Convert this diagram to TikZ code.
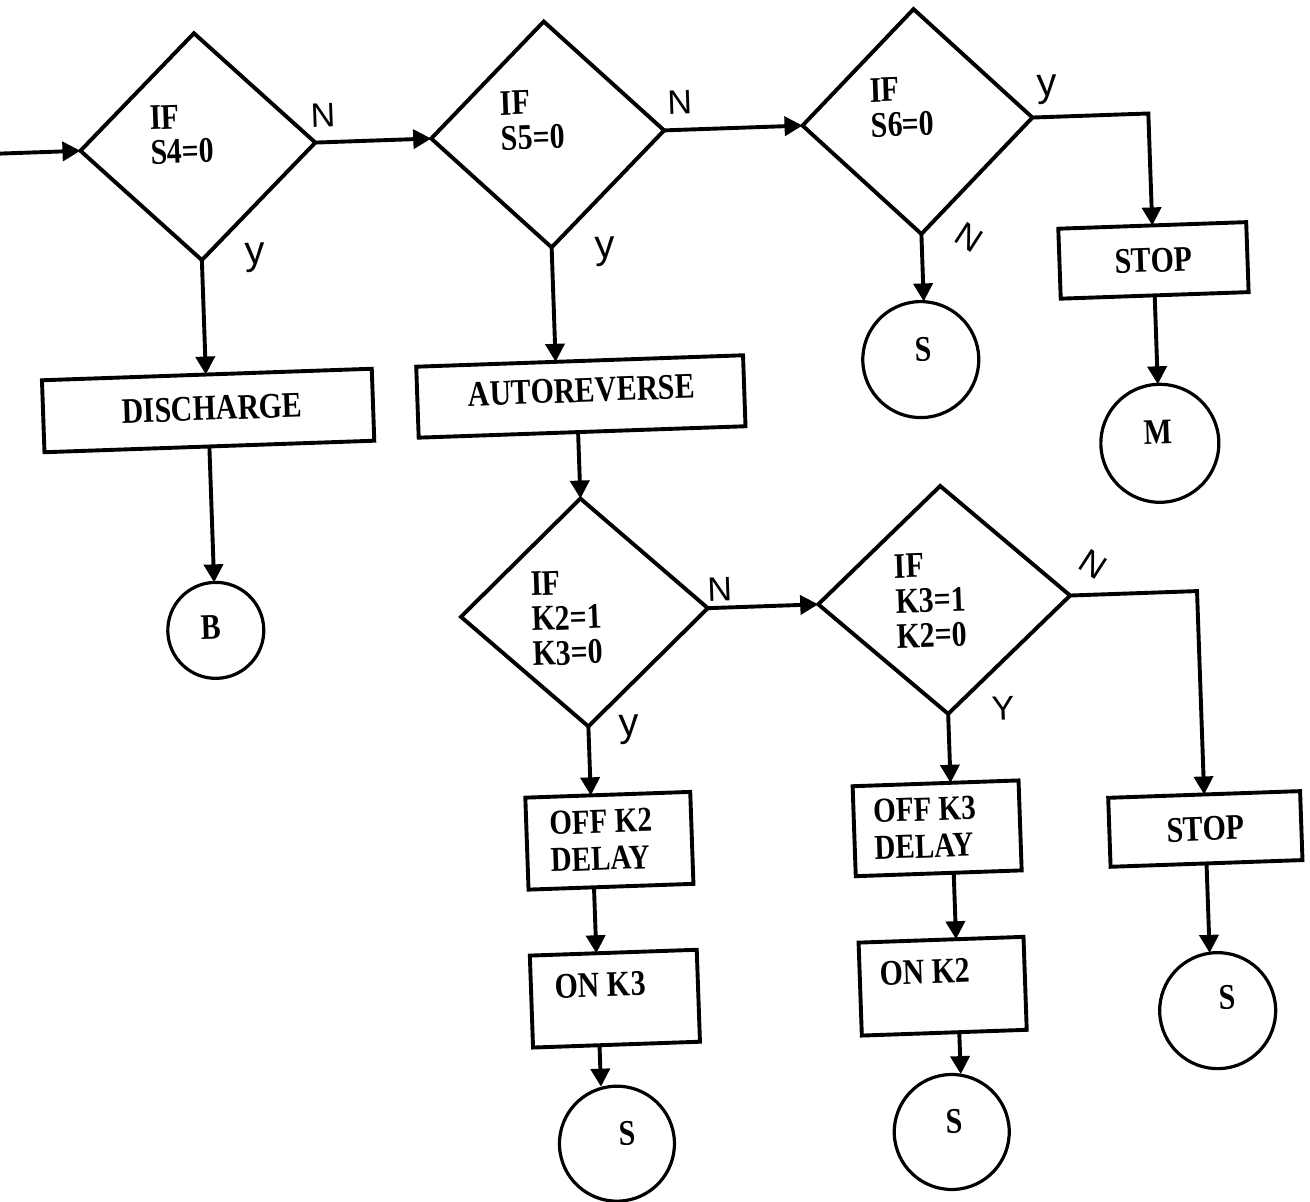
\documentclass[tikz,border=0pt]{standalone}
\usepackage{fontspec}
\setmainfont{Liberation Serif}
\newfontfamily\boxfont[FakeStretch=0.83]{Liberation Serif}
\newfontfamily\handfont{Liberation Sans}
\usetikzlibrary{shapes.geometric,arrows.meta}
\tikzset{
  ln/.style={line width=1.95pt},
  arr/.style={ln, -{Triangle[length=9pt,width=9.5pt]}},
  dia/.style={diamond, draw, ln, inner sep=0pt, outer sep=0pt},
  box/.style={rectangle, draw, ln, inner sep=0pt, outer sep=0pt,
    font=\boxfont\bfseries\fontsize{18}{17.5}\selectfont, align=center},
  circ/.style={circle, draw, line width=1.6pt, inner sep=0pt, outer sep=0pt},
  txt/.style={inner sep=0pt, font=\boxfont\bfseries\fontsize{18}{17.5}\selectfont, align=left},
  txtb/.style={inner sep=0pt, font=\boxfont\bfseries\fontsize{17.5}{18.5}\selectfont, align=left},
  lab/.style={inner sep=0pt, font=\handfont\fontsize{17}{17}\selectfont},
  laby/.style={inner sep=0pt, font=\handfont\fontsize{20}{20}\selectfont},
}
\begin{document}
\begin{tikzpicture}[x=0.5pt,y=-0.5pt]
\useasboundingbox (0,0) rectangle (1310,1201);
\fill[white] (0,0) rectangle (1310,1201);
\begin{scope}[rotate around={2:(655,600)}, transform shape]
% decisions
\coordinate (in) at (14,131);
\node[dia, minimum width=117.5pt, minimum height=113.5pt] (d1) at (214,131) {};
\node[dia, minimum width=116.5pt, minimum height=113pt] (d2) at (564,131) {};
\node[dia, minimum width=115pt, minimum height=112.5pt] (d3) at (934,131) {};
\node[dia, minimum width=123.5pt, minimum height=114pt] (d4) at (584,610) {};
\node[dia, minimum width=126pt, minimum height=114pt] (d5) at (944,610) {};
\node[txt, anchor=west] (t1) at (166.5,118) {IF\\S4=0};
\node[txt, anchor=west] (t2) at (517,116) {IF\\S5=0};
\node[txt, anchor=west] (t3) at (887,116) {IF\\S6=0};
\node[txt, anchor=west] (t4) at (531,615) {IF\\K2=1\\K3=0};
\node[txt, anchor=west] (t5) at (895,610) {IF\\K3=1\\K2=0};
% boxes
\node[box, minimum width=165pt, minimum height=36pt] (dis) at (215,395) {};
\node[txt] (dist) at (219,393) {DISCHARGE};
\node[box, minimum width=163.5pt, minimum height=35.5pt] (ar) at (588,394) {};
\node[txt] (art) at (589,388) {AUTOREVERSE};
\node[box, minimum width=94pt, minimum height=35pt] (stop1) at (1165,278) {STOP};
\node[box, minimum width=96pt, minimum height=34.5pt] (stop2) at (1197,848) {STOP};
\node[box, minimum width=82.5pt, minimum height=46pt] (offa) at (601,839) {};
\node[txtb] (offat) at (593,838) {OFF K2\\DELAY};
\node[box, minimum width=83.5pt, minimum height=46pt] (ona) at (601,997) {};
\node[txt] (onat) at (587,983) {ON K3};
\node[box, minimum width=83pt, minimum height=45pt] (offb) at (929,838) {};
\node[txtb] (offbt) at (917,837) {OFF K3\\DELAY};
\node[box, minimum width=82.5pt, minimum height=46.5pt] (onb) at (929,996) {};
\node[txt] (onbt) at (912,981) {ON K2};
% connector circles
\node[circ, minimum size=58pt] (s1) at (929,369) {};
\node[txt] (s1t) at (932,359) {S};
\node[circ, minimum size=59pt] (m) at (1165,461) {};
\node[txt] (mt) at (1164,450) {M};
\node[circ, minimum size=48pt] (b) at (215,615) {};
\node[txt] (bt) at (210,612) {B};
\node[circ, minimum size=57.5pt] (sa) at (598,1142) {};
\node[txt] (sat) at (609,1132) {S};
\node[circ, minimum size=57.5pt] (sb) at (933,1142) {};
\node[txt] (sbt) at (936,1132) {S};
\node[circ, minimum size=58pt] (sc) at (1203,1030) {};
\node[txt] (sct) at (1213,1017) {S};
% connectors
\draw[arr] (in) -- (d1.west);
\draw[arr] (d1.east) -- (d2.west);
\draw[arr] (d2.east) -- (d3.west);
\draw[arr] (d3.east) -| (stop1.north);
\draw[arr] (d3.south) -- (d3.south |- s1.north);
\draw[arr] (stop1.south) -- (m.north);
\draw[arr] (d1.south) -- (d1.south |- dis.north);
\draw[arr] (dis.south) -- (dis.south |- b.north);
\draw[arr] (d2.south) -- (d2.south |- ar.north);
\draw[arr] (ar.south -| d4.north) -- (d4.north);
\draw[arr] (d4.east) -- (d5.west);
\draw[arr] (d5.east) -| (stop2.north);
\draw[arr] (d4.south) -- (d4.south |- offa.north);
\draw[arr] (offa.south -| d4.south) -- (d4.south |- ona.north);
\draw[arr] (ona.south -| d4.south) -- (d4.south |- sa.north);
\draw[arr] (d5.south) -- (d5.south |- offb.north);
\draw[arr] (offb.south -| d5.south) -- (d5.south |- onb.north);
\draw[arr] (onb.south -| d5.south) -- (d5.south |- sb.north);
\draw[arr] (stop2.south) -- (stop2.south |- sc.north);
% branch labels
\node[lab] (n1) at (340,104) {N};
\node[laby] (y1) at (267,244) {y};
\node[lab] (n2) at (697,104) {N};
\node[laby] (y2) at (617,250) {y};
\node[laby] (y3) at (1065,104) {y};
\node[lab, rotate=-35] (n3) at (982,249) {N};
\node[lab] (n4) at (720,592) {N};
\node[laby] (y4) at (625,729) {y};
\node[lab, rotate=-35] (n5) at (1094,580) {N};
\node[lab] (y5) at (999,720) {Y};
\end{scope}
\end{tikzpicture}
\end{document}
